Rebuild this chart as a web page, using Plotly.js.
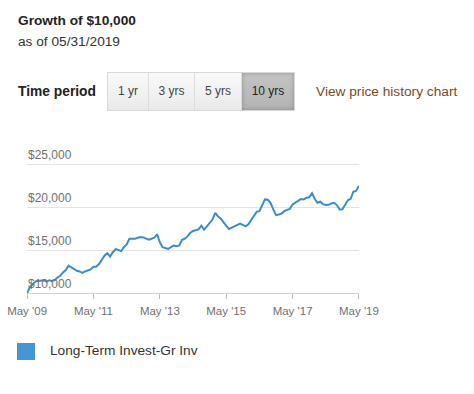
<!DOCTYPE html>
<html>
<head>
<meta charset="utf-8">
<script src="https://cdn.plot.ly/plotly-3.0.1.min.js"></script>
<style>
  html, body { margin: 0; padding: 0; background: #fff; }
  body { width: 474px; height: 394px; position: relative; overflow: hidden;
         font-family: "Liberation Sans", Arial, Helvetica, sans-serif; }
  #chart { position: absolute; left: 0; top: 0; width: 474px; height: 394px; }
  .t { position: absolute; line-height: 1; white-space: nowrap; }
  .btns { position: absolute; left: 107px; top: 72px; height: 39px; display: flex;
          border: 1px solid #d8d8d8; box-sizing: border-box; }
  .btn { height: 37px; line-height: 37px; text-align: center; font-size: 12px; color: #444;
         background: linear-gradient(#fafafa, #e9e9e9); border-right: 1px solid #dcdcdc; box-sizing: border-box; }
  .btn.sel { background: linear-gradient(#c4c4c4, #b3b3b3); box-shadow: inset 0 0 4px rgba(0,0,0,0.25);
             border-right: none; color: #222; }
</style>
</head>
<body>
<div id="chart"></div>
<div class="t" style="left:18px; top:14px; font-size:13.7px; font-weight:bold; color:#222;">Growth of $10,000</div>
<div class="t" style="left:18px; top:35px; font-size:13.7px; color:#333;">as of 05/31/2019</div>
<div class="t" style="left:18px; top:85px; font-size:13.8px; font-weight:bold; color:#222;">Time period</div>
<div class="btns">
  <div class="btn" style="width:41px;">1 yr</div>
  <div class="btn" style="width:46px;">3 yrs</div>
  <div class="btn" style="width:47px;">5 yrs</div>
  <div class="btn sel" style="width:52px;">10 yrs</div>
</div>
<div class="t" style="left:316px; top:85px; font-size:13.7px; color:#7a4a1f;">View price history chart</div>
<div style="position:absolute; left:17px; top:343px; width:18px; height:17px; background:#4596d2;"></div>
<div class="t" style="left:50px; top:344px; font-size:13.7px; color:#333;">Long-Term Invest-Gr Inv</div>
<script>
// Growth of $10,000, month-end values from May 2009 to May 2019
const seriesName = "Long-Term Invest-Gr Inv";
const startYear = 2009, startMonth = 5;
const values = [
  10000, 10630, 11020, 11330, 11410, 11410, 11490, 11330, 11490, 11410, 11490, 11800,
  12000, 12390, 12670, 13180, 12980, 12710, 12590, 12510, 12350, 12510, 12590, 12750,
  13060, 13060, 13370, 13840, 14350, 14630, 14240, 14750, 15100, 15020, 14860, 15330,
  15650, 16310, 16310, 16310, 16430, 16510, 16470, 16310, 16200, 16310, 16430, 16820,
  15920, 15330, 15250, 15140, 15330, 15530, 15450, 15530, 16200, 16310, 16590, 16980,
  17220, 17290, 17410, 17840, 17370, 17760, 18160, 18550, 19330, 18940, 18670, 18270,
  17880, 17450, 17610, 17760, 17920, 18080, 17920, 17760, 18000, 18470, 18940, 19450,
  19530, 20240, 20900, 20860, 20510, 19730, 19060, 19140, 19250, 19530, 19650, 19800,
  20310, 20550, 20750, 20940, 20900, 21100, 21140, 21610, 20940, 20510, 20630, 20350,
  20240, 20270, 20430, 20510, 20240, 19730, 19760, 20310, 20820, 20940, 21800, 21880,
  22470
];
const xTickVals = ["2009-05-31", "2011-05-31", "2013-05-31", "2015-05-31", "2017-05-31", "2019-05-31"];
const xTickText = ["May '09", "May '11", "May '13", "May '15", "May '17", "May '19"];
const yTickVals = [10000, 15000, 20000, 25000];
const yTickText = ["$10,000", "$15,000", "$20,000", "$25,000"];

function monthEnd(i) {
  const m0 = startMonth - 1 + i;
  const y = startYear + Math.floor(m0 / 12);
  const m = m0 % 12;
  const d = new Date(Date.UTC(y, m + 1, 0));
  return d.toISOString().slice(0, 10);
}
const dates = values.map((v, i) => monthEnd(i));

const trace = {
  x: dates, y: values, type: "scatter", mode: "lines", name: seriesName,
  line: { color: "#3d8cc9", width: 2 }, hoverinfo: "skip"
};
const layout = {
  width: 474, height: 394,
  margin: { l: 27, r: 115, t: 147, b: 101, pad: 0 },
  paper_bgcolor: "rgba(0,0,0,0)", plot_bgcolor: "rgba(0,0,0,0)",
  showlegend: false,
  font: { family: "Liberation Sans, Arial, sans-serif", color: "#777" },
  xaxis: {
    type: "date", range: ["2009-05-30", "2019-06-01"],
    tickmode: "array", tickvals: xTickVals, ticktext: xTickText,
    showgrid: false, zeroline: false,
    showline: true, linecolor: "#cfcfcf", linewidth: 1,
    ticks: "outside", ticklen: 5, tickcolor: "#bdbdbd", tickwidth: 1,
    ticklabelstandoff: 2,
    tickfont: { size: 11.5, color: "#707070" }, fixedrange: true
  },
  yaxis: {
    range: [10000, 27000],
    side: "right", anchor: "free", position: 0,
    tickmode: "array", tickvals: yTickVals, ticktext: yTickText,
    showgrid: true, gridcolor: "#e3e3e3", gridwidth: 1, zeroline: false,
    showline: false, ticks: "",
    ticklabelposition: "outside", ticklabelshift: -9, ticklabelstandoff: 0,
    tickfont: { size: 12, color: "#707070" }, fixedrange: true
  }
};
Plotly.newPlot("chart", [trace], layout, { displayModeBar: false, staticPlot: true });
</script>
</body>
</html>
